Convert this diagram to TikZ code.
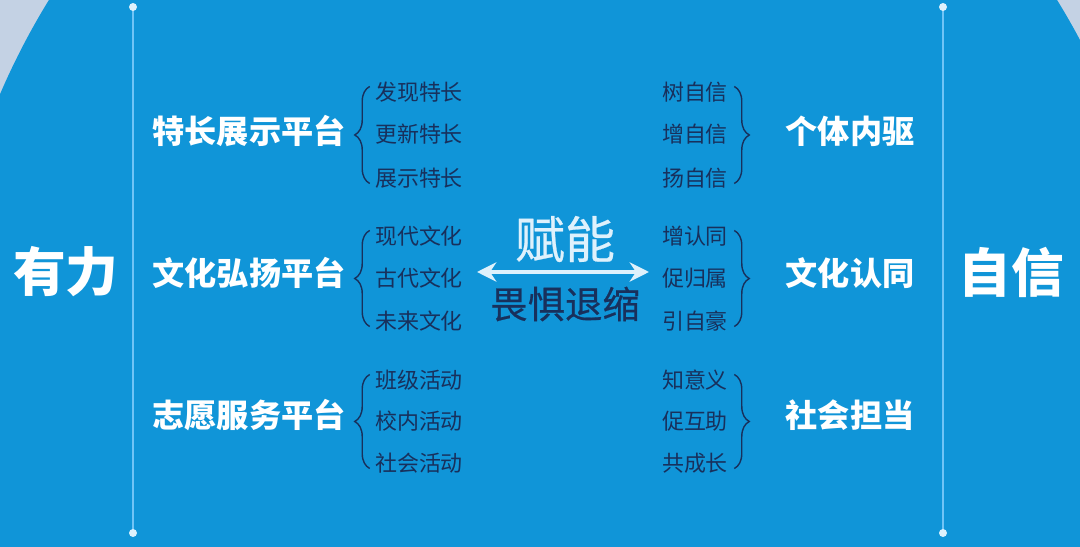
\documentclass[tikz,border=0pt]{standalone}
\usepackage{fontspec}
\setmainfont{Noto Sans CJK SC}
\newfontfamily\midfont{Noto Sans CJK SC}[FakeBold=0.5]
\usetikzlibrary{positioning, calc, arrows.meta, decorations.pathreplacing}
\definecolor{bgBlue}{RGB}{16, 149, 216}
\definecolor{bgGrey}{RGB}{196, 210, 228}
\definecolor{navy}{RGB}{24, 48, 92}
\definecolor{lineBlue}{RGB}{112, 196, 246}
\definecolor{paleBlue}{RGB}{222, 241, 252}

\begin{document}
\begin{tikzpicture}[
    x=0.02cm, y=-0.02cm,
    big/.style={font=\fontsize{30}{30}\selectfont\bfseries, text=white, inner sep=0pt},
    head/.style={font=\fontsize{18.3}{18.3}\selectfont\bfseries, text=white, inner sep=0pt},
    item/.style={font=\fontsize{12.5}{12.5}\selectfont, text=navy, inner sep=0pt},
    lcurly/.style={navy, line width=0.8pt, decorate, decoration={brace, amplitude=0.3cm}},
  ]
    \useasboundingbox (0,0) rectangle (1080,547);
    % background
    \fill[bgGrey] (0,0) rectangle (1080,547);
    \fill[bgBlue] (553,400) ellipse[x radius=615, y radius=698];
    % side rules
    \coordinate (lt) at (133,7);
    \coordinate (lb) at (133,533);
    \coordinate (rt) at (943,7);
    \coordinate (rb) at (943,533);
    \draw[lineBlue, line width=1.1pt] (lt) -- (lb);
    \draw[lineBlue, line width=1.1pt] (rt) -- (rb);
    \foreach \p in {lt, lb, rt, rb}
      \fill[paleBlue] (\p) circle[radius=4];
    % outer words
    \node[big] (youli) at (66,272) {有力};
    \node[big] (zixin) at (1011,272) {自信};
    % centre
    \node[font=\midfont\fontsize{28.5}{28.5}\selectfont, text=paleBlue, inner sep=0pt] (funeng) at (565,239) {赋能};
    \node[font=\midfont\fontsize{21.3}{21.3}\selectfont, text=navy, inner sep=0pt] (weiju) at (565,304) {畏惧退缩};
    \coordinate (arrL) at (477,272);
    \coordinate (arrR) at (649,272);
    \draw[paleBlue, line width=2.2pt, {Stealth[length=11pt, width=11pt]}-{Stealth[length=11pt, width=11pt]}] (arrL) -- (arrR);
    % left platforms
    \node[head] (p1) at (249,131) {特长展示平台};
    \node[item] (a11) at (419,92) {发现特长};
    \node[item] (a12) at (419,134) {更新特长};
    \node[item] (a13) at (419,178) {展示特长};
    \node[head] (p2) at (249,273) {文化弘扬平台};
    \node[item] (a21) at (419,236) {现代文化};
    \node[item] (a22) at (419,278) {古代文化};
    \node[item] (a23) at (419,321) {未来文化};
    \node[head] (p3) at (249,415) {志愿服务平台};
    \node[item] (a31) at (419,380) {班级活动};
    \node[item] (a32) at (419,421) {校内活动};
    \node[item] (a33) at (419,463) {社会活动};
    \foreach \g in {1,2,3}
      \draw[lcurly] ($(a\g3.south west)+(-5,-5)$) -- ($(a\g1.north west)+(-5,5)$);
    % right results
    \node[head] (q1) at (850,131) {个体内驱};
    \node[item] (b11) at (695,92) {树自信};
    \node[item] (b12) at (695,134) {增自信};
    \node[item] (b13) at (695,178) {扬自信};
    \node[head] (q2) at (850,273) {文化认同};
    \node[item] (b21) at (695,236) {增认同};
    \node[item] (b22) at (695,278) {促归属};
    \node[item] (b23) at (695,321) {引自豪};
    \node[head] (q3) at (850,415) {社会担当};
    \node[item] (b31) at (695,380) {知意义};
    \node[item] (b32) at (695,421) {促互助};
    \node[item] (b33) at (695,463) {共成长};
    \foreach \g in {1,2,3}
      \draw[lcurly] ($(b\g1.north east)+(6,5)$) -- ($(b\g3.south east)+(6,-5)$);
  \end{tikzpicture}
\end{document}
